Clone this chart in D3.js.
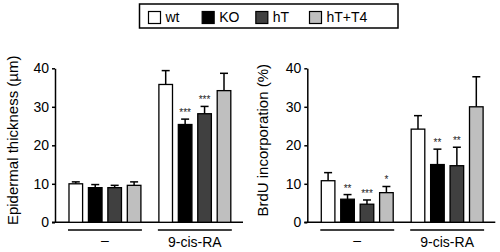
<!DOCTYPE html>
<html>
<head>
<meta charset="utf-8">
<script src="https://cdn.jsdelivr.net/npm/d3@7"></script>
<style>
  html, body { margin: 0; padding: 0; background: #fff; }
  svg { display: block; font-family: "Liberation Sans", Arial, sans-serif; }
</style>
</head>
<body>
<div id="chart"></div>
<script>
const groups = ['–', '9-cis-RA'];
const series = ['wt', 'KO', 'hT', 'hT+T4'];
const seriesColors = ['#ffffff', '#000000', '#404040', '#bfbfbf'];
const yTicks = [0, 10, 20, 30, 40];

// epidermal thickness (µm), per group: wt, KO, hT, hT+T4
const thicknessMean = [[10.0, 9.0, 9.0, 9.6], [35.8, 25.4, 28.2, 34.2]];
const thicknessErr = [[0.5, 0.8, 0.6, 0.9], [3.6, 1.4, 1.9, 4.5]];
const thicknessStars = [['', '', '', ''], ['', '***', '***', '']];

// BrdU incorporation (%)
const brduMean = [[10.8, 6.0, 4.7, 7.7], [24.2, 15.0, 14.7, 30.0]];
const brduErr = [[2.1, 1.2, 1.1, 1.6], [3.5, 4.0, 4.8, 7.8]];
const brduStars = [['', '**', '***', '*'], ['', '**', '**', '']];

const width = 500, height = 252;

const svg = d3.select('#chart').append('svg')
  .attr('width', width)
  .attr('height', height);

const y = d3.scaleLinear().domain([0, 40]).range([222.3, 68.3]);

const panels = [
  { x0: 55, title: 'Epidermal thickness (µm)', titleX: 13, mean: thicknessMean, err: thicknessErr, stars: thicknessStars },
  { x0: 307.3, title: 'BrdU incorporation (%)', titleX: 263, mean: brduMean, err: brduErr, stars: brduStars }
];

panels.forEach(p => {
  const g = svg.append('g');

  const xGroup = d3.scaleBand()
    .domain(groups)
    .range([p.x0 + 5, p.x0 + 184.8])
    .paddingInner(0.2)
    .paddingOuter(0.1);

  const xSeries = d3.scaleBand()
    .domain(series)
    .range([0, xGroup.bandwidth()])
    .paddingInner(0.3)
    .paddingOuter(0);

  // x baseline
  g.append('line')
    .attr('x1', p.x0 - 3).attr('x2', p.x0 + 188)
    .attr('y1', y(0)).attr('y2', y(0))
    .attr('stroke', '#000').attr('stroke-width', 1.5);

  // y axis
  const yAxis = g.append('g')
    .attr('transform', `translate(${p.x0},0)`)
    .call(d3.axisLeft(y).tickValues(yTicks).tickSize(3).tickSizeOuter(0).tickPadding(3));
  yAxis.select('.domain').attr('stroke-width', 1.5);
  yAxis.selectAll('.tick line').attr('stroke-width', 1.5);
  yAxis.selectAll('.tick text')
    .attr('font-size', 14)
    .attr('font-family', '"Liberation Sans", Arial, sans-serif')
    .attr('fill', '#000');

  // y title
  g.append('text')
    .attr('transform', `translate(${p.titleX},${(y(0) + y(40)) / 2 - 5}) rotate(-90)`)
    .attr('dy', '0.35em')
    .attr('text-anchor', 'middle')
    .attr('font-size', 15)
    .text(p.title);

  groups.forEach((grp, gi) => {
    const gx = xGroup(grp);
    const rows = series.map((s, si) => ({
      s, si,
      mean: p.mean[gi][si],
      err: p.err[gi][si],
      star: p.stars[gi][si]
    }));

    // error bars (upper only)
    const eb = g.selectAll(null).data(rows).enter();
    eb.append('line')
      .attr('x1', d => gx + xSeries(d.s) + xSeries.bandwidth() / 2)
      .attr('x2', d => gx + xSeries(d.s) + xSeries.bandwidth() / 2)
      .attr('y1', d => y(d.mean))
      .attr('y2', d => y(d.mean + d.err))
      .attr('stroke', '#000').attr('stroke-width', 1.5);
    eb.append('line')
      .attr('x1', d => gx + xSeries(d.s) + xSeries.bandwidth() / 2 - 4)
      .attr('x2', d => gx + xSeries(d.s) + xSeries.bandwidth() / 2 + 4)
      .attr('y1', d => y(d.mean + d.err))
      .attr('y2', d => y(d.mean + d.err))
      .attr('stroke', '#000').attr('stroke-width', 1.5);

    // bars
    g.selectAll(null).data(rows).enter()
      .append('rect')
      .attr('x', d => gx + xSeries(d.s))
      .attr('y', d => y(d.mean))
      .attr('width', xSeries.bandwidth())
      .attr('height', d => y(0) - y(d.mean))
      .attr('fill', d => seriesColors[d.si])
      .attr('stroke', '#000')
      .attr('stroke-width', 1.3);

    // significance stars
    g.selectAll(null).data(rows.filter(d => d.star)).enter()
      .append('text')
      .attr('x', d => gx + xSeries(d.s) + xSeries.bandwidth() / 2)
      .attr('y', d => y(d.mean + d.err) - 3)
      .attr('text-anchor', 'middle')
      .attr('font-size', 10)
      .attr('fill', '#222')
      .text(d => d.star);

    // group underline and label
    g.append('line')
      .attr('x1', gx - 1).attr('x2', gx + xGroup.bandwidth() + 1)
      .attr('y1', 230).attr('y2', 230)
      .attr('stroke', '#000').attr('stroke-width', 1.5);
    g.append('text')
      .attr('x', gx + xGroup.bandwidth() / 2)
      .attr('y', gi === 0 ? 245 : 247)
      .attr('text-anchor', 'middle')
      .attr('font-size', 14)
      .text(grp);
  });
});

// legend
const legend = svg.append('g');
legend.append('rect')
  .attr('x', 139.5).attr('y', 4)
  .attr('width', 258.5).attr('height', 24)
  .attr('fill', '#fff')
  .attr('stroke', '#000').attr('stroke-width', 1.5);

const legendX = d3.scalePoint().domain(series).range([148, 309]);
const items = legend.selectAll('g.item').data(series).enter()
  .append('g').attr('class', 'item')
  .attr('transform', d => `translate(${legendX(d)},0)`);
items.append('rect')
  .attr('x', 0.5).attr('y', 11.5)
  .attr('width', 12).attr('height', 12)
  .attr('fill', (d, i) => seriesColors[i])
  .attr('stroke', '#000').attr('stroke-width', 1.2);
items.append('text')
  .attr('x', 17.5).attr('y', 22.3)
  .attr('font-size', 14)
  .text(d => d);
</script>
</body>
</html>
